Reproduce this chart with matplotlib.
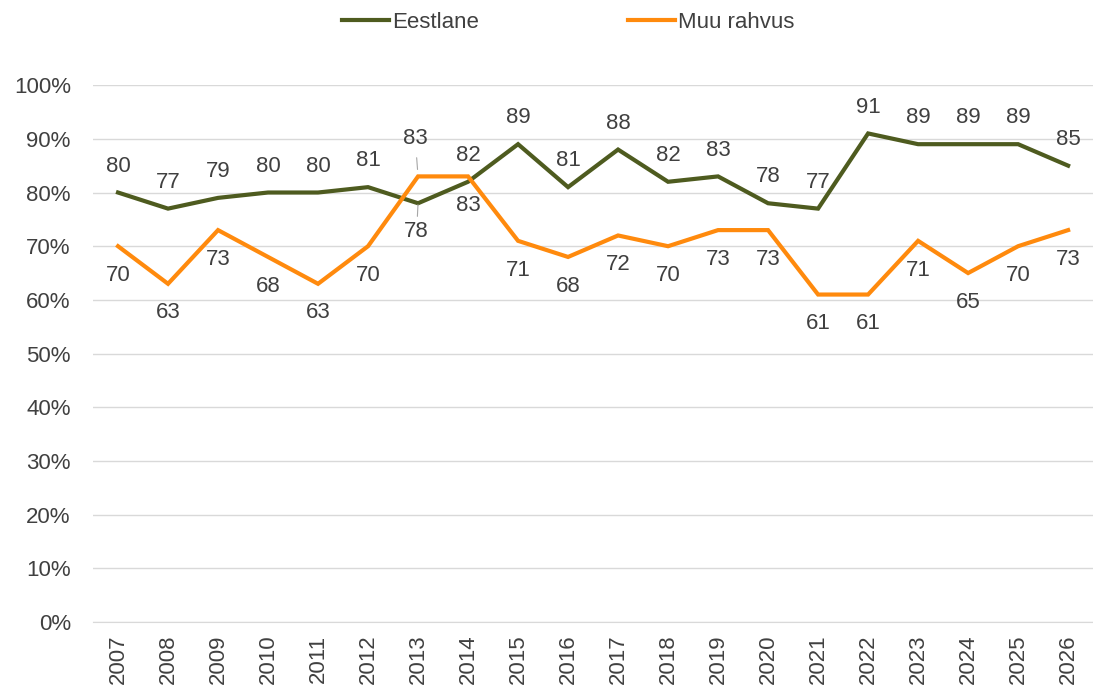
import matplotlib.pyplot as plt
import numpy as np

plt.rcParams['font.family'] = ['Liberation Sans', 'DejaVu Sans']

years = [str(y) for y in range(2007, 2027)]
eestlane = [80, 77, 79, 80, 80, 81, 78, 82, 89, 81, 88, 82, 83, 78, 77, 91, 89, 89, 89, 85]
muu = [70, 63, 73, 68, 63, 70, 83, 83, 71, 68, 72, 70, 73, 73, 61, 61, 71, 65, 70, 73]

green = '#4E5B1F'
orange = '#FF8A0D'
txt = '#404040'
fs = 16

fig = plt.figure(figsize=(10.93, 6.92), dpi=100)
ax = fig.add_axes([0.0851, 0.101, 0.915, 0.776])
x = np.arange(len(years))

ax.plot(x, eestlane, color=green, lw=3, label='Eestlane', solid_joinstyle='miter')
ax.plot(x, muu, color=orange, lw=3, label='Muu rahvus', solid_joinstyle='miter')

# data labels: eestlane above, muu below, swapped at 2013 with leader lines
for i, (e, m) in enumerate(zip(eestlane, muu)):
    if years[i] == '2013':
        ax.annotate(str(e), (i, e), xytext=(-1, -20), textcoords='offset points',
                    ha='center', va='center', fontsize=fs, color=txt,
                    arrowprops=dict(arrowstyle='-', color='#a6a6a6', lw=0.8, shrinkA=1, shrinkB=1))
        ax.annotate(str(m), (i, m), xytext=(-2, 27), textcoords='offset points',
                    ha='center', va='center', fontsize=fs, color=txt,
                    arrowprops=dict(arrowstyle='-', color='#a6a6a6', lw=0.8, shrinkA=4, shrinkB=5))
        continue
    ax.annotate(str(e), (i, e), xytext=(0, 19), textcoords='offset points',
                ha='center', va='center', fontsize=fs, color=txt)
    ax.annotate(str(m), (i, m), xytext=(0, -21), textcoords='offset points',
                ha='center', va='center', fontsize=fs, color=txt)

ax.set_xlim(-0.5, len(years) - 0.5)
ax.set_ylim(0, 100)
ax.set_yticks(np.arange(0, 101, 10))
ax.set_yticklabels([f'{v}%' for v in range(0, 101, 10)])
ax.set_xticks(x)
ax.set_xticklabels(years, rotation=90)
ax.tick_params(axis='y', labelsize=fs, colors=txt, length=0, pad=16)
ax.tick_params(axis='x', labelsize=fs, colors=txt, length=0, pad=9)
ax.grid(axis='y', color='#d9d9d9', lw=1)
ax.set_axisbelow(True)
for s in ['top', 'right', 'left']:
    ax.spines[s].set_visible(False)
ax.spines['bottom'].set_color('#d9d9d9')

fig.legend(loc='upper center', bbox_to_anchor=(0.52, 1.012), ncol=2, frameon=False,
           fontsize=fs, handlelength=2.1, handletextpad=0.15, columnspacing=6.7,
           labelcolor=txt)

fig.savefig('out.png', dpi=100)
